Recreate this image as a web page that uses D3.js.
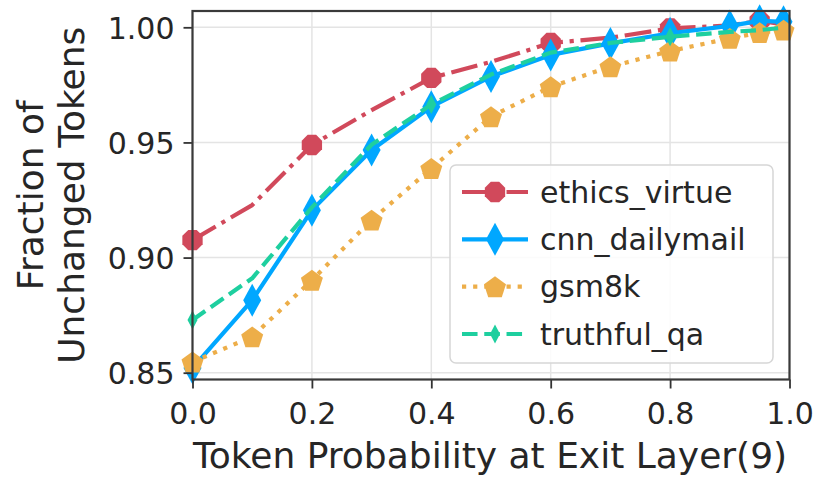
<!DOCTYPE html>
<html>
<head>
<meta charset="utf-8">
<script src="https://cdn.jsdelivr.net/npm/d3@7"></script>
<style>
  html, body { margin: 0; padding: 0; background: #fff; }
  svg { display: block; font-family: "DejaVu Sans", sans-serif; }
</style>
</head>
<body>
<svg id="chart" width="818" height="477"></svg>
<script>
// Probability thresholds at the exit layer
const thresholds = [0, 0.1, 0.2, 0.3, 0.4, 0.5, 0.6, 0.7, 0.8, 0.9, 0.95, 0.99];

// Fraction of tokens left unchanged, one array per dataset
const ethicsVirtue = [0.9076, 0.9228, 0.9489, 0.9640, 0.9780, 0.9850, 0.9932, 0.9955, 0.9995, 1.0008, 1.0028, 1.0012];
const cnnDailymail = [0.8520, 0.8815, 0.9206, 0.9467, 0.9655, 0.9786, 0.9880, 0.9930, 0.9974, 1.0006, 1.0028, 1.0024];
const gsm8k        = [0.8547, 0.8656, 0.8902, 0.9163, 0.9387, 0.9612, 0.9742, 0.9829, 0.9897, 0.9952, 0.9977, 0.9988];
const truthfulQa   = [0.8729, 0.8910, 0.9218, 0.9490, 0.9665, 0.9795, 0.9890, 0.9932, 0.9959, 0.9980, 0.9988, 0.9998];

const seriesNames = ["ethics_virtue", "cnn_dailymail", "gsm8k", "truthful_qa"];
const xTicks = [0, 0.2, 0.4, 0.6, 0.8, 1.0];
const yTicks = [0.85, 0.90, 0.95, 1.00];
const xLabel = "Token Probability at Exit Layer(9)";
const yLabelLines = ["Fraction of", "Unchanged Tokens"];

// Styling per series
const LW = 4.2;
const styles = [
  { values: ethicsVirtue, color: "#d1495b", dash: `${6.4*LW},${1.6*LW},${1*LW},${1.6*LW}`, marker: "octagon", every: 2, w: 22, h: 22 },
  { values: cnnDailymail, color: "#00a7ff", dash: null, marker: "thinDiamond", every: 1, w: 18, h: 33 },
  { values: gsm8k,        color: "#edae49", dash: `${1*LW},${1.65*LW}`, marker: "pentagon", every: 1, w: 22, h: 22 },
  { values: truthfulQa,   color: "#1ecf9f", dash: `${3.7*LW},${1.6*LW}`, marker: "thinDiamond", every: 4, w: 10, h: 19 }
];

// Marker outlines, centred on the origin
function markerPath(kind, w, h) {
  const pts = [];
  if (kind === "octagon") {
    const r = w / 2;
    for (let i = 0; i < 8; i++) {
      const a = Math.PI / 8 + i * Math.PI / 4;
      pts.push([r * Math.cos(a), r * Math.sin(a)]);
    }
  } else if (kind === "pentagon") {
    const r = w / 2 * 1.05;
    for (let i = 0; i < 5; i++) {
      const a = -Math.PI / 2 + i * 2 * Math.PI / 5;
      pts.push([r * Math.cos(a), r * Math.sin(a) + r * 0.1]);
    }
  } else {
    pts.push([0, -h / 2], [w / 2, 0], [0, h / 2], [-w / 2, 0]);
  }
  return "M" + pts.map(p => p[0].toFixed(2) + "," + p[1].toFixed(2)).join("L") + "Z";
}

const svg = d3.select("#chart");
const plot = { left: 192.5, right: 789.5, top: 11, bottom: 379.5 };

const x = d3.scaleLinear().domain([0, 1]).range([plot.left, plot.right]);
const y = d3.scaleLinear().domain([0.84705, 1.00708]).range([plot.bottom, plot.top]);

// Grid
const grid = svg.append("g").attr("stroke", "#e4e4e4").attr("stroke-width", 1.5);
grid.selectAll(".gx").data(xTicks).join("line")
  .attr("x1", d => x(d)).attr("x2", d => x(d))
  .attr("y1", plot.top).attr("y2", plot.bottom);
grid.selectAll(".gy").data(yTicks).join("line")
  .attr("x1", plot.left).attr("x2", plot.right)
  .attr("y1", d => y(d)).attr("y2", d => y(d));

// Series lines and markers
const line = d3.line().x(d => x(d[0])).y(d => y(d[1]));
const seriesG = svg.append("g");
styles.forEach(s => {
  const pts = thresholds.map((t, i) => [t, s.values[i]]);
  const g = seriesG.append("g");
  g.append("path")
    .attr("d", line(pts))
    .attr("fill", "none")
    .attr("stroke", s.color)
    .attr("stroke-width", LW)
    .attr("stroke-dasharray", s.dash)
    .attr("stroke-linejoin", "round");
  g.selectAll("path.m")
    .data(pts.filter((d, i) => i % s.every === 0))
    .join("path")
    .attr("class", "m")
    .attr("d", markerPath(s.marker, s.w, s.h))
    .attr("transform", d => `translate(${x(d[0])},${y(d[1])})`)
    .attr("fill", s.color);
});

// Axes
const tickColor = "#333";
const xAxis = d3.axisBottom(x).tickValues(xTicks).tickFormat(d3.format(".1f")).tickSize(9).tickPadding(5);
const yAxis = d3.axisLeft(y).tickValues(yTicks).tickFormat(d3.format(".2f")).tickSize(9).tickPadding(9);

const gx = svg.append("g").attr("transform", `translate(0,${plot.bottom})`).call(xAxis);
const gy = svg.append("g").attr("transform", `translate(${plot.left},0)`).call(yAxis);
[gx, gy].forEach(g => {
  g.select(".domain").remove();
  g.selectAll(".tick line").attr("stroke", tickColor).attr("stroke-width", 1.8);
  g.selectAll(".tick text").attr("fill", "#262626").attr("font-size", 30)
    .attr("font-family", "DejaVu Sans, sans-serif");
});
gx.selectAll(".tick text").attr("dy", null).attr("y", 44).attr("dominant-baseline", "auto");
gy.selectAll(".tick text").attr("dy", null).attr("dominant-baseline", "auto").attr("y", 11);

// Frame
svg.append("rect")
  .attr("x", plot.left).attr("y", plot.top)
  .attr("width", plot.right - plot.left).attr("height", plot.bottom - plot.top)
  .attr("fill", "none").attr("stroke", "#3a3a3a").attr("stroke-width", 2.2);

// Axis labels
svg.append("text")
  .attr("x", (plot.left + plot.right) / 2 - 1).attr("y", 468)
  .attr("text-anchor", "middle").attr("font-size", 36).attr("fill", "#262626")
  .text(xLabel);

const yl = svg.append("text")
  .attr("transform", `translate(0,${(plot.top + plot.bottom) / 2}) rotate(-90)`)
  .attr("text-anchor", "middle").attr("font-size", 36).attr("fill", "#262626");
yl.selectAll("tspan").data(yLabelLines).join("tspan")
  .attr("x", 0).attr("y", (d, i) => i === 0 ? 43 : 83.5)
  .text(d => d);

// Legend
const legend = svg.append("g");
legend.append("rect")
  .attr("x", 450).attr("y", 165).attr("width", 323).attr("height", 198)
  .attr("rx", 6).attr("fill", "#fff").attr("fill-opacity", 0.85)
  .attr("stroke", "#d6d6d6").attr("stroke-width", 1.5);
const rowY = d3.scaleLinear().domain([0, 3]).range([192, 334]);
styles.forEach((s, i) => {
  const cy = rowY(i);
  legend.append("line")
    .attr("x1", 462).attr("x2", 528).attr("y1", cy).attr("y2", cy)
    .attr("stroke", s.color).attr("stroke-width", LW)
    .attr("stroke-dasharray", s.dash);
  legend.append("path")
    .attr("d", markerPath(s.marker, s.w, s.h))
    .attr("transform", `translate(495,${cy})`)
    .attr("fill", s.color);
  legend.append("text")
    .attr("x", 540).attr("y", cy + 10.5)
    .attr("font-size", 30).attr("fill", "#262626")
    .text(seriesNames[i]);
});
</script>
</body>
</html>
